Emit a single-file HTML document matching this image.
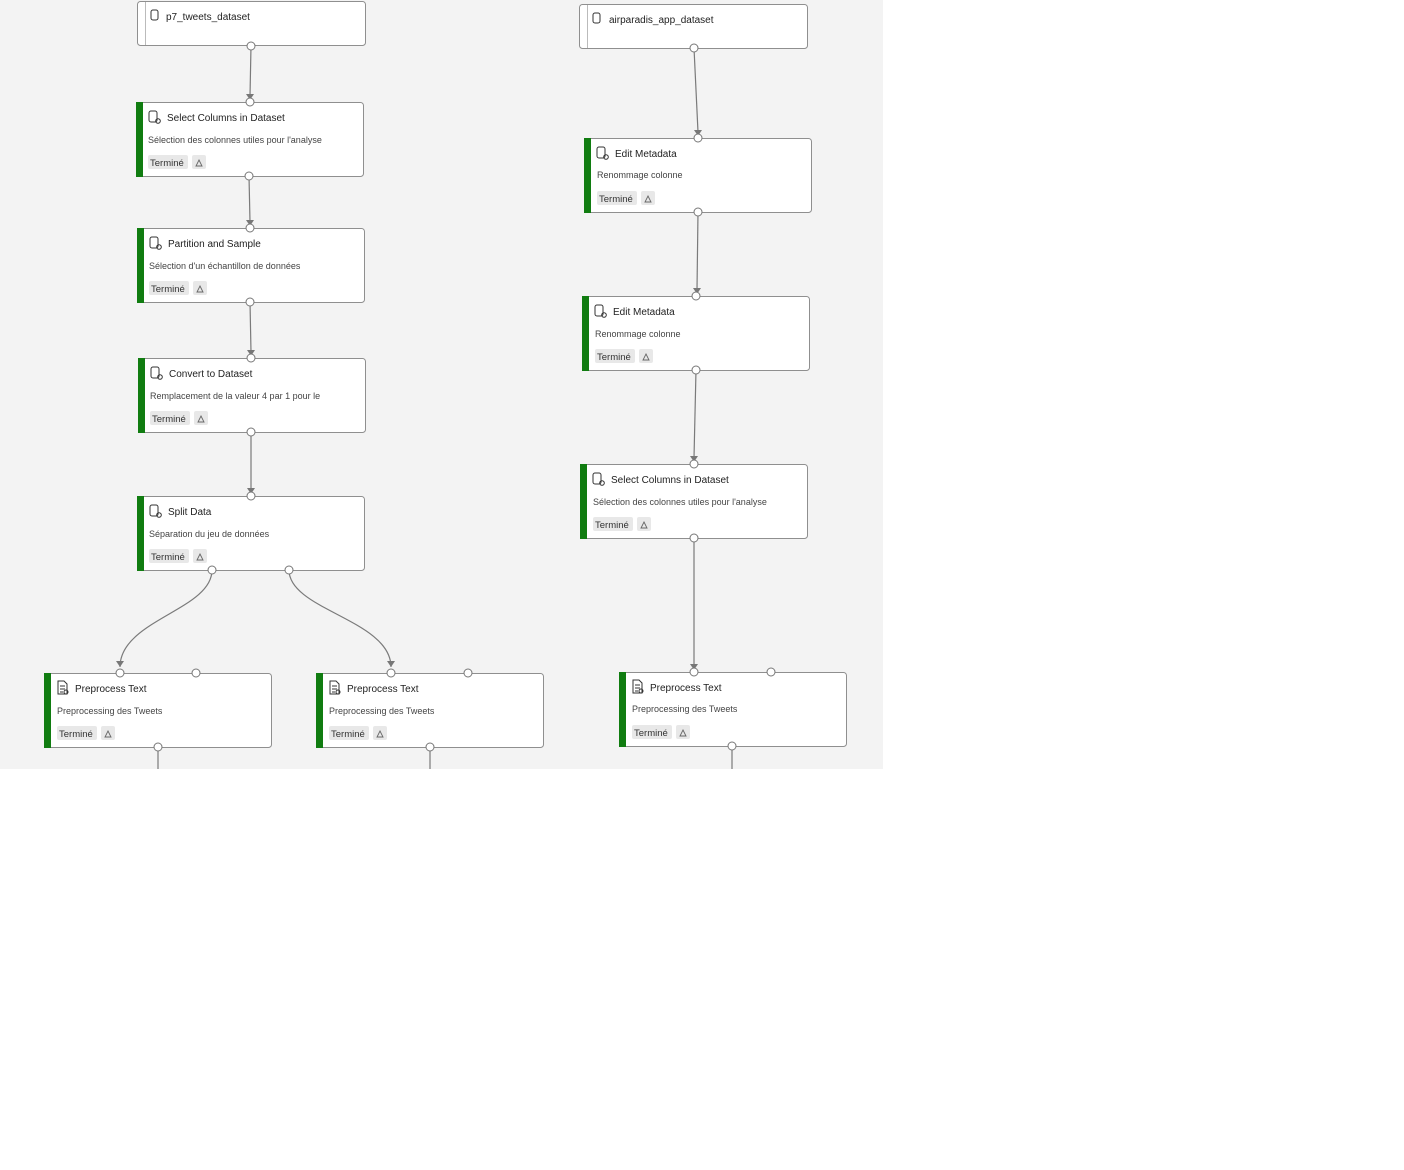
<!DOCTYPE html>
<html><head><meta charset="utf-8"><style>
html,body{margin:0;padding:0;background:#fff;}
svg{display:block;font-family:"Liberation Sans","DejaVu Sans",sans-serif;}
.t{font-size:10px;fill:#222;}
.d{font-size:9px;fill:#444;}
.b{font-size:9.5px;fill:#333;}
.n{fill:#fff;stroke:#8f8f8f;stroke-width:1;}
.p{fill:#fff;stroke:#777;stroke-width:1;}
.l{fill:none;stroke:#7a7a7a;stroke-width:1.2;}
.i{fill:none;stroke:#333;stroke-width:1;}
</style></head><body>
<svg width="1404" height="1170" viewBox="0 0 1404 1170">
<defs>
<marker id="a" markerWidth="8" markerHeight="8" refX="4" refY="7" orient="auto" markerUnits="userSpaceOnUse">
<path d="M0,0 L8,0 L4,7 z" fill="#777" transform="rotate(-90 4 4) translate(0 0)"/>
</marker>
<g id="ico"><rect x="0" y="0" width="8" height="11" rx="2" class="i"/><circle cx="9" cy="10" r="2.3" class="i"/></g>
<g id="pt"><path d="M1,0 h6 l3,3 v10 h-9 z M3,5 h5 M3,8 h5 M3,11 h3" class="i"/><circle cx="9" cy="11" r="2" class="i"/></g>
<g id="rc"><path d="M4,2 L7,8 L1,8 Z" fill="none" stroke="#666" stroke-width="0.9"/></g>
</defs>
<rect x="0" y="0" width="883" height="769" fill="#f3f3f3"/>

<!-- connectors -->
<g class="l">
<path d="M251,46 L250,96"/><path d="M246,94 L250,100 L254,94 z" fill="#777" stroke="none"/>
<path d="M249,176 L250,222"/><path d="M246,220 L250,226 L254,220 z" fill="#777" stroke="none"/>
<path d="M250,302 L251,352"/><path d="M247,350 L251,356 L255,350 z" fill="#777" stroke="none"/>
<path d="M251,432 L251,490"/><path d="M247,488 L251,494 L255,488 z" fill="#777" stroke="none"/>
<path d="M212,570 C212,610 120,620 120,667"/><path d="M116,661 L120,667 L124,661 z" fill="#777" stroke="none"/>
<path d="M289,570 C289,610 391,620 391,667"/><path d="M387,661 L391,667 L395,661 z" fill="#777" stroke="none"/>
<path d="M694,48 L698,132"/><path d="M694,130 L698,136 L702,130 z" fill="#777" stroke="none"/>
<path d="M698,212 L697,290"/><path d="M693,288 L697,294 L701,288 z" fill="#777" stroke="none"/>
<path d="M696,370 L694,458"/><path d="M690,456 L694,462 L698,456 z" fill="#777" stroke="none"/>
<path d="M694,538 L694,666"/><path d="M690,664 L694,670 L698,664 z" fill="#777" stroke="none"/>
<path d="M158,747 L158,769"/><path d="M430,747 L430,769"/><path d="M732,746 L732,769"/>
</g>

<!-- dataset nodes -->
<rect class="n" x="137.5" y="1.5" width="228" height="44" rx="3"/>
<line x1="145.5" y1="2" x2="145.5" y2="45" stroke="#bbb"/>
<rect x="151" y="10" width="7" height="10" rx="2" class="i"/>
<text class="t" x="166" y="20">p7_tweets_dataset</text>
<circle class="p" cx="251" cy="46" r="4"/>

<rect class="n" x="579.5" y="4.5" width="228" height="44" rx="3"/>
<line x1="587.5" y1="5" x2="587.5" y2="48" stroke="#bbb"/>
<rect x="593" y="13" width="7" height="10" rx="2" class="i"/>
<text class="t" x="609" y="23">airparadis_app_dataset</text>
<circle class="p" cx="694" cy="48" r="4"/>

<!-- module nodes -->
<g transform="translate(136,102)">
<rect class="n" x="0.5" y="0.5" width="227" height="74" rx="3"/><rect x="0" y="0" width="7" height="75" fill="#107c10"/>
<use href="#ico" x="13" y="9"/><text class="t" x="31" y="19">Select Columns in Dataset</text>
<text class="d" x="12" y="41">Sélection des colonnes utiles pour l'analyse</text>
<rect x="12" y="53" width="40" height="14" rx="2" fill="#e8e8e8"/><text class="b" x="14" y="64">Terminé</text>
<rect x="56" y="53" width="14" height="14" rx="2" fill="#e8e8e8"/><use href="#rc" x="59" y="56"/>
</g>
<circle class="p" cx="250" cy="102" r="4"/><circle class="p" cx="249" cy="176" r="4"/>

<g transform="translate(137,228)">
<rect class="n" x="0.5" y="0.5" width="227" height="74" rx="3"/><rect x="0" y="0" width="7" height="75" fill="#107c10"/>
<use href="#ico" x="13" y="9"/><text class="t" x="31" y="19">Partition and Sample</text>
<text class="d" x="12" y="41">Sélection d'un échantillon de données</text>
<rect x="12" y="53" width="40" height="14" rx="2" fill="#e8e8e8"/><text class="b" x="14" y="64">Terminé</text>
<rect x="56" y="53" width="14" height="14" rx="2" fill="#e8e8e8"/><use href="#rc" x="59" y="56"/>
</g>
<circle class="p" cx="250" cy="228" r="4"/><circle class="p" cx="250" cy="302" r="4"/>

<g transform="translate(138,358)">
<rect class="n" x="0.5" y="0.5" width="227" height="74" rx="3"/><rect x="0" y="0" width="7" height="75" fill="#107c10"/>
<use href="#ico" x="13" y="9"/><text class="t" x="31" y="19">Convert to Dataset</text>
<text class="d" x="12" y="41">Remplacement de la valeur 4 par 1 pour le</text>
<rect x="12" y="53" width="40" height="14" rx="2" fill="#e8e8e8"/><text class="b" x="14" y="64">Terminé</text>
<rect x="56" y="53" width="14" height="14" rx="2" fill="#e8e8e8"/><use href="#rc" x="59" y="56"/>
</g>
<circle class="p" cx="251" cy="358" r="4"/><circle class="p" cx="251" cy="432" r="4"/>

<g transform="translate(137,496)">
<rect class="n" x="0.5" y="0.5" width="227" height="74" rx="3"/><rect x="0" y="0" width="7" height="75" fill="#107c10"/>
<use href="#ico" x="13" y="9"/><text class="t" x="31" y="19">Split Data</text>
<text class="d" x="12" y="41">Séparation du jeu de données</text>
<rect x="12" y="53" width="40" height="14" rx="2" fill="#e8e8e8"/><text class="b" x="14" y="64">Terminé</text>
<rect x="56" y="53" width="14" height="14" rx="2" fill="#e8e8e8"/><use href="#rc" x="59" y="56"/>
</g>
<circle class="p" cx="251" cy="496" r="4"/><circle class="p" cx="212" cy="570" r="4"/><circle class="p" cx="289" cy="570" r="4"/>

<g transform="translate(44,673)">
<rect class="n" x="0.5" y="0.5" width="227" height="74" rx="3"/><rect x="0" y="0" width="7" height="75" fill="#107c10"/>
<use href="#pt" x="13" y="8"/><text class="t" x="31" y="19">Preprocess Text</text>
<text class="d" x="13" y="41">Preprocessing des Tweets</text>
<rect x="13" y="53" width="40" height="14" rx="2" fill="#e8e8e8"/><text class="b" x="15" y="64">Terminé</text>
<rect x="57" y="53" width="14" height="14" rx="2" fill="#e8e8e8"/><use href="#rc" x="60" y="56"/>
</g>
<circle class="p" cx="120" cy="673" r="4"/><circle class="p" cx="196" cy="673" r="4"/><circle class="p" cx="158" cy="747" r="4"/>

<g transform="translate(316,673)">
<rect class="n" x="0.5" y="0.5" width="227" height="74" rx="3"/><rect x="0" y="0" width="7" height="75" fill="#107c10"/>
<use href="#pt" x="13" y="8"/><text class="t" x="31" y="19">Preprocess Text</text>
<text class="d" x="13" y="41">Preprocessing des Tweets</text>
<rect x="13" y="53" width="40" height="14" rx="2" fill="#e8e8e8"/><text class="b" x="15" y="64">Terminé</text>
<rect x="57" y="53" width="14" height="14" rx="2" fill="#e8e8e8"/><use href="#rc" x="60" y="56"/>
</g>
<circle class="p" cx="391" cy="673" r="4"/><circle class="p" cx="468" cy="673" r="4"/><circle class="p" cx="430" cy="747" r="4"/>

<g transform="translate(584,138)">
<rect class="n" x="0.5" y="0.5" width="227" height="74" rx="3"/><rect x="0" y="0" width="7" height="75" fill="#107c10"/>
<use href="#ico" x="13" y="9"/><text class="t" x="31" y="19">Edit Metadata</text>
<text class="d" x="13" y="40">Renommage colonne</text>
<rect x="13" y="53" width="40" height="14" rx="2" fill="#e8e8e8"/><text class="b" x="15" y="64">Terminé</text>
<rect x="57" y="53" width="14" height="14" rx="2" fill="#e8e8e8"/><use href="#rc" x="60" y="56"/>
</g>
<circle class="p" cx="698" cy="138" r="4"/><circle class="p" cx="698" cy="212" r="4"/>

<g transform="translate(582,296)">
<rect class="n" x="0.5" y="0.5" width="227" height="74" rx="3"/><rect x="0" y="0" width="7" height="75" fill="#107c10"/>
<use href="#ico" x="13" y="9"/><text class="t" x="31" y="19">Edit Metadata</text>
<text class="d" x="13" y="41">Renommage colonne</text>
<rect x="13" y="53" width="40" height="14" rx="2" fill="#e8e8e8"/><text class="b" x="15" y="64">Terminé</text>
<rect x="57" y="53" width="14" height="14" rx="2" fill="#e8e8e8"/><use href="#rc" x="60" y="56"/>
</g>
<circle class="p" cx="696" cy="296" r="4"/><circle class="p" cx="696" cy="370" r="4"/>

<g transform="translate(580,464)">
<rect class="n" x="0.5" y="0.5" width="227" height="74" rx="3"/><rect x="0" y="0" width="7" height="75" fill="#107c10"/>
<use href="#ico" x="13" y="9"/><text class="t" x="31" y="19">Select Columns in Dataset</text>
<text class="d" x="13" y="41">Sélection des colonnes utiles pour l'analyse</text>
<rect x="13" y="53" width="40" height="14" rx="2" fill="#e8e8e8"/><text class="b" x="15" y="64">Terminé</text>
<rect x="57" y="53" width="14" height="14" rx="2" fill="#e8e8e8"/><use href="#rc" x="60" y="56"/>
</g>
<circle class="p" cx="694" cy="464" r="4"/><circle class="p" cx="694" cy="538" r="4"/>

<g transform="translate(619,672)">
<rect class="n" x="0.5" y="0.5" width="227" height="74" rx="3"/><rect x="0" y="0" width="7" height="75" fill="#107c10"/>
<use href="#pt" x="13" y="8"/><text class="t" x="31" y="19">Preprocess Text</text>
<text class="d" x="13" y="40">Preprocessing des Tweets</text>
<rect x="13" y="53" width="40" height="14" rx="2" fill="#e8e8e8"/><text class="b" x="15" y="64">Terminé</text>
<rect x="57" y="53" width="14" height="14" rx="2" fill="#e8e8e8"/><use href="#rc" x="60" y="56"/>
</g>
<circle class="p" cx="694" cy="672" r="4"/><circle class="p" cx="771" cy="672" r="4"/><circle class="p" cx="732" cy="746" r="4"/>
</svg>
</body></html>
